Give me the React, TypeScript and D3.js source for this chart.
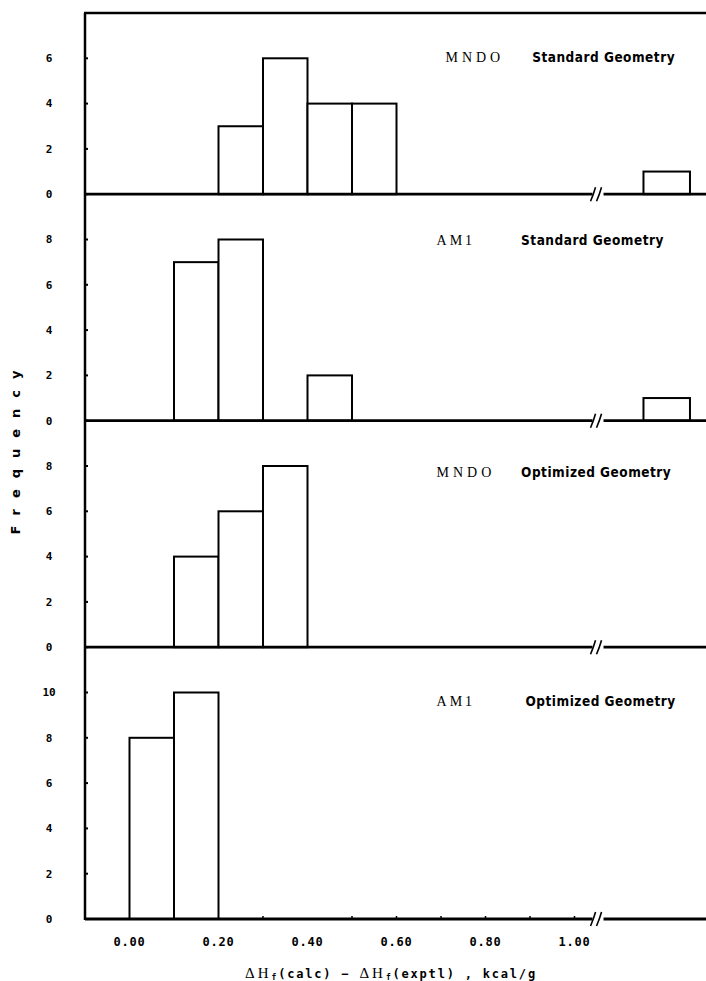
import React from "react";
import * as d3 from "d3";

const binStarts = [0.0, 0.1, 0.2, 0.3, 0.4, 0.5];
const binWidth = 0.1;
const panelMethods = ["MNDO", "AM1", "MNDO", "AM1"];
const panelGeometries = ["Standard Geometry", "Standard Geometry", "Optimized Geometry", "Optimized Geometry"];
const countsMndoStd = [0, 0, 3, 6, 4, 4];
const countsAm1Std = [0, 7, 8, 0, 2, 0];
const countsMndoOpt = [0, 4, 6, 8, 0, 0];
const countsAm1Opt = [8, 10, 0, 0, 0, 0];
const outlierCounts = [1, 1, 0, 0];
const panelYMax = [8, 10, 10, 12];
const panelYTicks = [[0, 2, 4, 6], [0, 2, 4, 6, 8], [0, 2, 4, 6, 8], [0, 2, 4, 6, 8, 10]];
const xTickValues = [0.0, 0.2, 0.4, 0.6, 0.8, 1.0];
const xTickLabels = ["0.00", "0.20", "0.40", "0.60", "0.80", "1.00"];
const xMinorTicks = [0.3, 0.5, 0.6, 0.7, 0.8, 0.9, 1.0];
const xDomain = [-0.1, 1.0];
const breakAt = 1.045;
const outlierDisplayStart = 1.155;

const allCounts = [countsMndoStd, countsAm1Std, countsMndoOpt, countsAm1Opt];

const W = 706;
const H = 981;
const TOP = 13;
const BOTTOM = 919;
const LEFT = 85;

export default function App() {
  const x = d3.scaleLinear().domain(xDomain).range([LEFT, LEFT + (574 - 129) * 1.1]);
  const totalUnits = d3.sum(panelYMax);
  const unitPx = (BOTTOM - TOP) / totalUnits;
  let cursor = TOP;
  const panels = panelYMax.map((ymax, i) => {
    const top = cursor;
    const base = top + ymax * unitPx;
    cursor = base;
    const y = d3.scaleLinear().domain([0, ymax]).range([base, top]);
    return { top, base, y, i };
  });
  const bx = x(breakAt);
  const monoFont = "'DejaVu Sans Mono', monospace";
  const labelFont = "'DejaVu Sans Condensed', 'DejaVu Sans', sans-serif";
  const labelOffsets = [49, 51, 56, 59];

  return (
    <svg width={W} height={H} style={{ position: "absolute", left: 0, top: 0, background: "#fff" }}>
      <rect x={0} y={0} width={W} height={H} fill="#fff" />
      <line x1={LEFT - 1} x2={W} y1={TOP} y2={TOP} stroke="#000" strokeWidth={2.5} />
      <line x1={LEFT} x2={LEFT} y1={TOP} y2={BOTTOM + 1} stroke="#000" strokeWidth={2.5} />
      {panels.map(({ top, base, y, i }) => {
        const counts = allCounts[i];
        const ly = top + labelOffsets[i];
        return (
          <g key={i}>
            {counts.map((c, j) =>
              c > 0 ? (
                <rect
                  key={j}
                  x={x(binStarts[j])}
                  y={y(c)}
                  width={x(binStarts[j] + binWidth) - x(binStarts[j])}
                  height={base - y(c)}
                  fill="#fff"
                  stroke="#000"
                  strokeWidth={2}
                />
              ) : null
            )}
            {outlierCounts[i] > 0 ? (
              <rect
                x={x(outlierDisplayStart)}
                y={y(outlierCounts[i])}
                width={x(outlierDisplayStart + binWidth) - x(outlierDisplayStart) + 2}
                height={base - y(outlierCounts[i])}
                fill="#fff"
                stroke="#000"
                strokeWidth={2}
              />
            ) : null}
            <line x1={LEFT} x2={bx - 2} y1={base} y2={base} stroke="#000" strokeWidth={2.8} />
            <line x1={bx + 9} x2={W} y1={base} y2={base} stroke="#000" strokeWidth={2.8} />
            <path d={`M${bx - 4},${base + 7} Q${bx - 1},${base} ${bx + 1},${base - 7}`} fill="none" stroke="#000" strokeWidth={1.6} />
            <path d={`M${bx + 2},${base + 7} Q${bx + 5},${base} ${bx + 7},${base - 7}`} fill="none" stroke="#000" strokeWidth={1.6} />
            {panelYTicks[i].map((t) => (
              <g key={t}>
                <line x1={LEFT} x2={LEFT + 3} y1={y(t)} y2={y(t)} stroke="#000" strokeWidth={2} />
                <text
                  x={49}
                  y={y(t)}
                  dy="0.35em"
                  textAnchor="middle"
                  fontFamily={monoFont}
                  fontWeight="bold"
                  fontSize={11}
                >
                  {t}
                </text>
              </g>
            ))}
            <text
              x={x(i === 0 ? 0.71 : 0.69)}
              y={ly}
              fontFamily="'Liberation Serif', serif"
              fontSize={14}
              letterSpacing={i % 2 === 0 ? 4 : 3}
            >
              {panelMethods[i]}
            </text>
            <text
              x={x(i === 0 ? 0.905 : i === 3 ? 0.89 : 0.88)}
              y={ly}
              fontFamily={labelFont}
              fontWeight="bold"
              fontSize={13.5}
              letterSpacing={0.5}
            >
              {panelGeometries[i]}
            </text>
          </g>
        );
      })}
      {xMinorTicks.map((t) => (
        <line key={t} x1={x(t)} x2={x(t)} y1={BOTTOM} y2={BOTTOM - 3} stroke="#000" strokeWidth={1.5} />
      ))}
      {xTickValues.map((t, k) => (
        <text
          key={t}
          x={x(t)}
          y={BOTTOM + 27}
          textAnchor="middle"
          fontFamily={monoFont}
          fontWeight="bold"
          fontSize={12}
          letterSpacing={0.8}
        >
          {xTickLabels[k]}
        </text>
      ))}
      <text x={391} y={978} textAnchor="middle" fontFamily={monoFont} fontWeight="bold" fontSize={12} letterSpacing={1.8}>
        <tspan fontFamily="'Liberation Serif', serif" fontSize={15} fontWeight="normal" letterSpacing={3}>ΔH</tspan>
        <tspan fontSize={8} dy={2}>f</tspan>
        <tspan dy={-2}>(calc) − </tspan>
        <tspan fontFamily="'Liberation Serif', serif" fontSize={15} fontWeight="normal" letterSpacing={3}>ΔH</tspan>
        <tspan fontSize={8} dy={2}>f</tspan>
        <tspan dy={-2}>(exptl) , kcal/g</tspan>
      </text>
      <text
        transform={`translate(20,${447}) rotate(-90)`}
        textAnchor="middle"
        fontFamily="'DejaVu Sans', sans-serif"
        fontWeight="bold"
        fontSize={13}
        letterSpacing={11}
      >
        Frequency
      </text>
    </svg>
  );
}
